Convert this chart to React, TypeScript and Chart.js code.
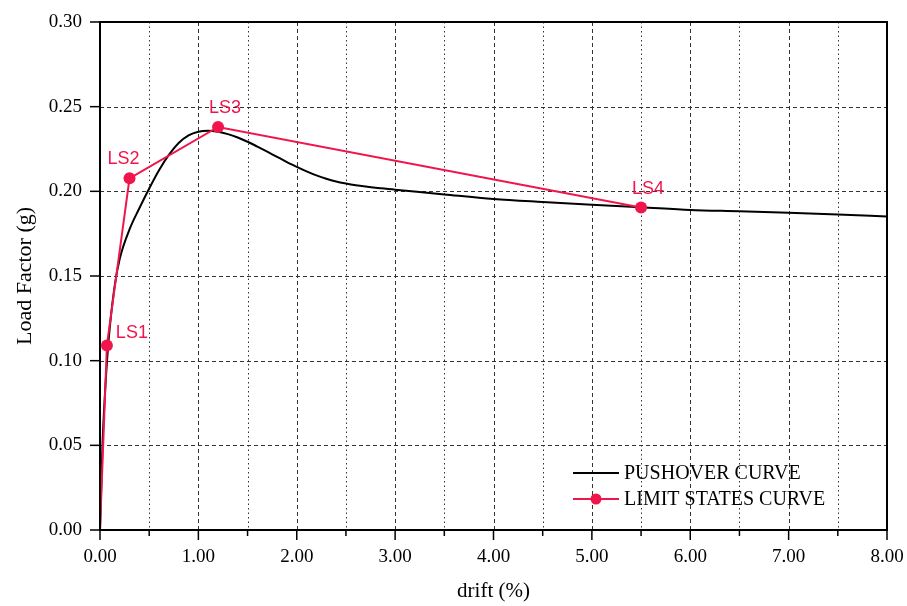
import React, { useEffect, useRef } from "react";
import { Chart, registerables } from "chart.js";

Chart.register(...registerables);

// Pushover curve: drift (%) vs load factor (g)
const pushoverDrift = [0, 0.01, 0.025, 0.05, 0.075, 0.1, 0.15, 0.2, 0.3, 0.4, 0.5, 0.6, 0.7, 0.8, 0.9, 1.0, 1.1, 1.2, 1.3, 1.4, 1.5, 1.6, 1.7, 1.8, 1.9, 2.0, 2.1, 2.2, 2.3, 2.4, 2.5, 2.6, 2.7, 2.8, 3.0, 3.5, 4.0, 4.5, 5.0, 5.5, 6.0, 6.5, 7.0, 7.5, 8.0];
const pushoverLoad = [0, 0.02, 0.05, 0.08, 0.103, 0.12, 0.1445, 0.16, 0.1775, 0.19, 0.2017, 0.2125, 0.2215, 0.2285, 0.233, 0.2352, 0.2358, 0.2352, 0.2338, 0.2318, 0.2293, 0.2264, 0.2234, 0.2203, 0.2173, 0.2145, 0.2118, 0.2094, 0.2074, 0.2058, 0.2046, 0.2036, 0.2028, 0.2021, 0.201, 0.1982, 0.1955, 0.1937, 0.1921, 0.1906, 0.189, 0.1882, 0.1873, 0.1863, 0.1852];

// Limit states curve (origin followed by LS1..LS4)
const limitDrift = [0, 0.07, 0.3, 1.2, 5.5];
const limitLoad = [0, 0.109, 0.2077, 0.238, 0.1905];
const limitLabels = ["", "LS1", "LS2", "LS3", "LS4"];

const legendLabels = ["PUSHOVER CURVE", "LIMIT STATES CURVE"];

const xMajorTicks = [0, 1, 2, 3, 4, 5, 6, 7, 8];
const xMinorTicks = [0.5, 1.5, 2.5, 3.5, 4.5, 5.5, 6.5, 7.5];
const yTicks = [0, 0.05, 0.1, 0.15, 0.2, 0.25, 0.3];

const RED = "#F0154B";
const SERIF = "'Liberation Serif', 'Times New Roman', serif";
const SANS = "'Liberation Sans', Arial, sans-serif";

// label offsets (px) relative to each limit-state marker
const labelOffsets: [number, number][] = [
  [0, 0],
  [25, -12],
  [-6, -19],
  [7, -19],
  [7, -18],
];

const framePlugin = {
  id: "frameAndGrid",
  beforeDatasetsDraw(chart: any) {
    const { ctx, chartArea: a, scales } = chart;
    const xs = scales.x;
    const ys = scales.y;
    ctx.save();
    ctx.lineWidth = 1;
    ctx.strokeStyle = "#333";
    // minor vertical grid (dotted)
    ctx.setLineDash([1.5, 3]);
    for (const v of xMinorTicks) {
      const px = Math.round(xs.getPixelForValue(v)) + 0.5;
      ctx.beginPath();
      ctx.moveTo(px, a.top);
      ctx.lineTo(px, a.bottom);
      ctx.stroke();
    }
    // major grid (dashed)
    ctx.setLineDash([4, 3]);
    for (const v of xMajorTicks.slice(1, -1)) {
      const px = Math.round(xs.getPixelForValue(v)) + 0.5;
      ctx.beginPath();
      ctx.moveTo(px, a.top);
      ctx.lineTo(px, a.bottom);
      ctx.stroke();
    }
    for (const v of yTicks.slice(1, -1)) {
      const py = Math.round(ys.getPixelForValue(v)) + 0.5;
      ctx.beginPath();
      ctx.moveTo(a.left, py);
      ctx.lineTo(a.right, py);
      ctx.stroke();
    }
    ctx.restore();
  },
  afterDraw(chart: any) {
    const { ctx, chartArea: a, scales } = chart;
    const xs = scales.x;
    const ys = scales.y;
    ctx.save();
    ctx.setLineDash([]);
    ctx.strokeStyle = "#000";
    // tick marks
    ctx.lineWidth = 1.5;
    for (const v of yTicks) {
      const py = ys.getPixelForValue(v);
      ctx.beginPath();
      ctx.moveTo(a.left - 10, py);
      ctx.lineTo(a.left, py);
      ctx.stroke();
    }
    for (const v of xMajorTicks) {
      const px = xs.getPixelForValue(v);
      ctx.beginPath();
      ctx.moveTo(px, a.bottom);
      ctx.lineTo(px, a.bottom + 10);
      ctx.stroke();
    }
    for (const v of xMinorTicks) {
      const px = xs.getPixelForValue(v);
      ctx.beginPath();
      ctx.moveTo(px, a.bottom);
      ctx.lineTo(px, a.bottom + 6);
      ctx.stroke();
    }
    // frame
    ctx.lineWidth = 2;
    ctx.strokeRect(a.left, a.top, a.right - a.left, a.bottom - a.top);

    // limit state labels
    const meta = chart.getDatasetMeta(0);
    ctx.fillStyle = RED;
    ctx.font = `18px ${SANS}`;
    ctx.textAlign = "center";
    ctx.textBaseline = "middle";
    meta.data.forEach((pt: any, i: number) => {
      const text = limitLabels[i];
      if (!text) return;
      const [dx, dy] = labelOffsets[i];
      ctx.fillText(text, pt.x + dx, pt.y + dy);
    });

    // legend
    const lx0 = a.right - 314;
    const lx1 = a.right - 268;
    const tx = a.right - 263;
    const y0 = a.bottom - 57;
    const y1 = a.bottom - 31;
    ctx.lineWidth = 2;
    ctx.strokeStyle = "#000";
    ctx.beginPath();
    ctx.moveTo(lx0, y0);
    ctx.lineTo(lx1, y0);
    ctx.stroke();
    ctx.strokeStyle = RED;
    ctx.beginPath();
    ctx.moveTo(lx0, y1);
    ctx.lineTo(lx1, y1);
    ctx.stroke();
    ctx.fillStyle = RED;
    ctx.beginPath();
    ctx.arc((lx0 + lx1) / 2, y1, 5.5, 0, Math.PI * 2);
    ctx.fill();
    ctx.fillStyle = "#000";
    ctx.font = `20px ${SERIF}`;
    ctx.textAlign = "left";
    ctx.fillText(legendLabels[0], tx, y0 + 1);
    ctx.fillText(legendLabels[1], tx, y1 + 1);
    ctx.restore();
  },
};

export default function App() {
  const ref = useRef<HTMLCanvasElement | null>(null);

  useEffect(() => {
    if (!ref.current) return;
    const chart = new Chart(ref.current, {
      type: "line",
      data: {
        datasets: [
          {
            label: legendLabels[1],
            data: limitDrift.map((x, i) => ({ x, y: limitLoad[i] })),
            borderColor: RED,
            backgroundColor: RED,
            borderWidth: 2,
            pointRadius: limitDrift.map((_, i) => (i === 0 ? 0 : 6)),
            pointHoverRadius: 6,
            pointBorderWidth: 0,
            tension: 0,
            order: 1,
            clip: false as any,
          },
          {
            label: legendLabels[0],
            data: pushoverDrift.map((x, i) => ({ x, y: pushoverLoad[i] })),
            borderColor: "#000",
            borderWidth: 2,
            pointRadius: 0,
            cubicInterpolationMode: "monotone",
            order: 2,
          },
        ],
      },
      options: {
        animation: false,
        responsive: false,
        events: [],
        layout: { autoPadding: false, padding: { top: 22, right: 20, left: 0, bottom: 0 } },
        plugins: {
          legend: { display: false },
          tooltip: { enabled: false },
        },
        scales: {
          x: {
            type: "linear",
            min: 0,
            max: 8,
            grid: { display: false },
            border: { display: false },
            ticks: {
              stepSize: 1,
              padding: 8,
              color: "#000",
              font: { family: SERIF, size: 19 },
              callback: (v: any) => Number(v).toFixed(2),
            },
            title: {
              display: true,
              text: "drift (%)",
              color: "#000",
              font: { family: SERIF, size: 21 },
              padding: { top: 0, bottom: 2 },
            },
            afterFit: (s: any) => {
              s.height = 76;
              s.paddingLeft = 0;
              s.paddingRight = 0;
            },
          },
          y: {
            type: "linear",
            min: 0,
            max: 0.3,
            grid: { display: false },
            border: { display: false },
            ticks: {
              stepSize: 0.05,
              padding: 10,
              color: "#000",
              font: { family: SERIF, size: 19 },
              callback: (v: any) => Number(v).toFixed(2),
            },
            title: {
              display: true,
              text: "Load Factor (g)",
              color: "#000",
              font: { family: SERIF, size: 22 },
              padding: { top: 12, bottom: 0 },
            },
            afterFit: (s: any) => {
              s.width = 100;
              s.paddingTop = 0;
              s.paddingBottom = 0;
            },
          },
        },
      },
      plugins: [framePlugin],
    });
    return () => chart.destroy();
  }, []);

  return (
    <div style={{ position: "absolute", left: 0, top: 0, width: 907, height: 606, background: "#fff" }}>
      <canvas ref={ref} width={907} height={606} style={{ display: "block" }} />
    </div>
  );
}
